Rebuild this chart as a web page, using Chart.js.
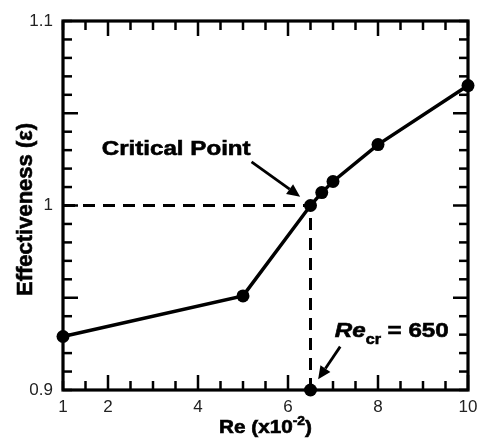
<!DOCTYPE html>
<html>
<head>
<meta charset="utf-8">
<script src="https://cdn.jsdelivr.net/npm/chart.js@4.4.1/dist/chart.umd.min.js"></script>
<style>
  html, body { margin: 0; padding: 0; background: #fff; }
  #wrap { width: 478px; height: 440px; }
</style>
</head>
<body>
<div id="wrap"><canvas id="effChart" width="478" height="440"></canvas></div>
<script>
// Effectiveness vs Reynolds number (Re given in units of 100)
const reValues = [1, 5, 6.5, 6.75, 7, 8, 10];
const effectiveness = [0.929, 0.951, 1.0, 1.007, 1.013, 1.033, 1.065];

// guide through the critical point, Re_cr = 650 -> 6.5 on this axis
const criticalRe = [1, 6.5, 6.5];
const criticalEff = [1.0, 1.0, 0.9];

const xTickLabels = [1, 2, 4, 6, 8, 10];
const xMajorTicks = [2, 4, 6, 8, 10];
const yTickLabels = [0.9, 1, 1.1];
const yMajorTicks = [0.95, 1, 1.05];

const FONT = '"Liberation Sans", Arial, sans-serif';
const TEXT_STRETCH = 1.15;

const inList = (list, v) => list.some(t => Math.abs(t - v) < 1e-6);

function seg(ctx, x1, y1, x2, y2) {
    ctx.beginPath();
    ctx.moveTo(x1, y1);
    ctx.lineTo(x2, y2);
    ctx.stroke();
}

function arrow(ctx, x1, y1, x2, y2) {
    const ang = Math.atan2(y2 - y1, x2 - x1);
    const head = 13, half = 6;
    const bx = x2 - head * Math.cos(ang), by = y2 - head * Math.sin(ang);
    ctx.lineWidth = 2.8;
    seg(ctx, x1, y1, bx, by);
    ctx.beginPath();
    ctx.moveTo(x2, y2);
    ctx.lineTo(bx + half * Math.sin(ang), by - half * Math.cos(ang));
    ctx.lineTo(bx - half * Math.sin(ang), by + half * Math.cos(ang));
    ctx.closePath();
    ctx.fill();
}

// draws a run of [text, font, dy] pieces, stretched a little horizontally
function drawRun(ctx, parts, x, y, align) {
    let total = 0;
    parts.forEach(p => { ctx.font = p[1]; total += ctx.measureText(p[0]).width; });
    ctx.save();
    ctx.translate(x, y);
    ctx.scale(TEXT_STRETCH, 1);
    let cx = align === 'center' ? -total / 2 : 0;
    ctx.textAlign = 'left';
    ctx.textBaseline = 'alphabetic';
    ctx.lineWidth = 0.6;
    parts.forEach(p => {
        ctx.font = p[1];
        ctx.fillText(p[0], cx, p[2] || 0);
        ctx.strokeText(p[0], cx, p[2] || 0);
        cx += ctx.measureText(p[0]).width;
    });
    ctx.restore();
}

const framePlugin = {
    id: 'frame',
    beforeDatasetsDraw(chart) {
        const { ctx, chartArea: a, scales: { x, y } } = chart;
        ctx.save();
        ctx.strokeStyle = '#000';
        ctx.lineWidth = 2.5;
        // inward ticks on all four sides
        x.ticks.forEach(t => {
            const px = x.getPixelForValue(t.value);
            const len = inList(xMajorTicks, t.value) ? 15 : 9;
            seg(ctx, px, a.bottom, px, a.bottom - len);
            seg(ctx, px, a.top, px, a.top + len);
        });
        y.ticks.forEach(t => {
            const py = y.getPixelForValue(t.value);
            const len = inList(yMajorTicks, t.value) ? 15 : 9;
            seg(ctx, a.left, py, a.left + len, py);
            seg(ctx, a.right, py, a.right - len, py);
        });
        ctx.lineWidth = 3.2;
        ctx.strokeRect(a.left, a.top, a.right - a.left, a.bottom - a.top);
        ctx.restore();
    },
    afterDraw(chart) {
        const { ctx, chartArea: a, scales: { x, y } } = chart;
        ctx.save();
        ctx.fillStyle = '#000';
        ctx.strokeStyle = '#000';

        // y axis title
        ctx.save();
        ctx.translate(26, (a.top + a.bottom) / 2 + 4);
        ctx.rotate(-Math.PI / 2);
        ctx.font = 'bold 22px ' + FONT;
        ctx.textAlign = 'center';
        ctx.textBaseline = 'middle';
        ctx.lineWidth = 0.6;
        ctx.fillText('Effectiveness (ε)', 0, 0);
        ctx.strokeText('Effectiveness (ε)', 0, 0);
        ctx.restore();

        // x axis title with superscript
        drawRun(ctx, [
            ['Re (x10', 'bold 18px ' + FONT, 0],
            ['-2', 'bold 12px ' + FONT, -8],
            [')', 'bold 18px ' + FONT, 0]
        ], (a.left + a.right) / 2, 433, 'center');

        // critical point label and arrow
        drawRun(ctx, [['Critical Point', 'bold 21px ' + FONT, 0]],
            x.getPixelForValue(1.86), y.getPixelForValue(1.0274), 'left');
        arrow(ctx, x.getPixelForValue(5.19), y.getPixelForValue(1.0237),
            x.getPixelForValue(6.27), y.getPixelForValue(1.0048));

        // Re_cr label and arrow
        drawRun(ctx, [
            ['Re', 'italic bold 21px ' + FONT, 0],
            ['cr', 'bold 14px ' + FONT, 7],
            [' = 650', 'bold 21px ' + FONT, 0]
        ], x.getPixelForValue(7.04), y.getPixelForValue(0.9289), 'left');
        arrow(ctx, x.getPixelForValue(7.16), y.getPixelForValue(0.9235),
            x.getPixelForValue(6.67), y.getPixelForValue(0.9058));

        ctx.restore();
    }
};

new Chart(document.getElementById('effChart'), {
    type: 'scatter',
    data: {
        datasets: [{
            data: reValues.map((r, i) => ({ x: r, y: effectiveness[i] })),
            showLine: true,
            borderColor: '#000',
            borderWidth: 3.5,
            backgroundColor: '#000',
            pointRadius: 6.5,
            pointBorderWidth: 0,
            clip: false
        }, {
            data: criticalRe.map((r, i) => ({ x: r, y: criticalEff[i] })),
            showLine: true,
            borderColor: '#000',
            borderWidth: 3,
            borderDash: [12, 8],
            backgroundColor: '#000',
            pointRadius: [0, 0, 6.5],
            pointBorderWidth: 0,
            clip: false
        }]
    },
    options: {
        responsive: false,
        animation: false,
        devicePixelRatio: 1,
        layout: { padding: { top: 21, right: 10, left: 0, bottom: 0 } },
        plugins: {
            legend: { display: false },
            tooltip: { enabled: false }
        },
        scales: {
            x: {
                type: 'linear',
                min: 1,
                max: 10,
                grid: { display: false, drawTicks: false },
                border: { display: false },
                afterFit: (s) => { s.height = 50; s.paddingLeft = 0; s.paddingRight = 0; },
                ticks: {
                    stepSize: 0.5,
                    autoSkip: false,
                    maxRotation: 0,
                    padding: 7,
                    color: '#222',
                    font: { family: FONT, size: 17 },
                    callback: (v) => inList(xTickLabels, v) ? String(Math.round(v)) : ''
                }
            },
            y: {
                min: 0.9,
                max: 1.1,
                grid: { display: false, drawTicks: false },
                border: { display: false },
                afterFit: (s) => { s.width = 63; },
                ticks: {
                    stepSize: 0.01,
                    autoSkip: false,
                    padding: 10,
                    color: '#222',
                    font: { family: FONT, size: 17 },
                    callback: (v) => {
                        const hit = yTickLabels.find(t => Math.abs(t - v) < 1e-6);
                        return hit === undefined ? '' : String(hit);
                    }
                }
            }
        }
    },
    plugins: [framePlugin]
});
</script>
</body>
</html>
